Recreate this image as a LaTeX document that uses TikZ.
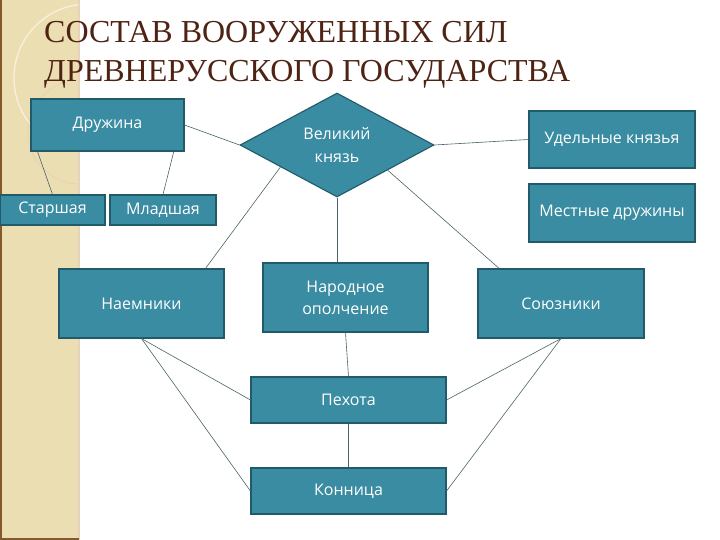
\documentclass[tikz,border=0pt]{standalone}
\usepackage{fontspec}
\setmainfont{Liberation Serif}
\setsansfont{Open Sans}
\usetikzlibrary{calc,positioning,shapes.geometric}

\definecolor{boxfill}{HTML}{3A8CA2}
\definecolor{boxline}{HTML}{215A69}
\definecolor{linkgray}{HTML}{4A6469}
\definecolor{stripbeige}{HTML}{ECDEB3}
\definecolor{titlebrown}{HTML}{4F2313}

\begin{document}
\begin{tikzpicture}[
            x=1pt, y=-1pt,
            font=\sffamily\fontsize{16}{22}\selectfont,
            % rettangoli e rombo dello schema
            unit/.style={rectangle, draw=boxline, line width=1.1pt, fill=boxfill, text=white, align=center, inner sep=0pt},
            chief/.style={diamond, draw=boxline, line width=1.1pt, fill=boxfill, text=white, align=center, inner sep=0pt, font=\sffamily\fontsize{16}{23}\selectfont},
            link/.style={draw=linkgray, line width=0.6pt},
            heading/.style={anchor=base west, text=titlebrown, font=\rmfamily\fontsize{32}{39}\selectfont, inner sep=0pt}
        ]

        \useasboundingbox (0,0) rectangle (720,540);
        \fill[white] (0,0) rectangle (720,540);

        % Fascia a sinistra
        \fill[stripbeige] (0,0) rectangle (79,540);
        \begin{scope}
            \clip (0,0) rectangle (79,540);
            \draw[white, opacity=0.6, line width=1.2pt] (88,78) circle (74);
            \draw[brown!40, opacity=0.5, line width=1pt] (80,132) circle (52);
        \end{scope}
        \draw[brown!35, line width=1.2pt] (79,0) -- (79,540);
        \draw[brown!70!black, line width=2pt] (1,0) -- (1,540);
        \draw[brown!70!black, line width=1.5pt] (0,539) -- (79,539);

        % Titolo
        \node (title_a) [heading] at (44,43) {СОСТАВ ВООРУЖЕННЫХ СИЛ};
        \node (title_b) [heading] at (44,82) {ДРЕВНЕРУССКОГО ГОСУДАРСТВА};

        % Nodi
        \node (druzhina) [unit, minimum width=153, minimum height=52] at (107.5,125) {Дружина};
        \node (starshaya) [unit, minimum width=105, minimum height=30] at (52.5,210) {Старшая};
        \node (mladshaya) [unit, minimum width=106, minimum height=30] at (163,210) {Младшая};

        \node (knyaz) [chief, minimum width=194, minimum height=104] at (337,145) {Великий\\князь};

        \node (udelnye) [unit, minimum width=166, minimum height=57] at (612,139.5) {Удельные князья};
        \node (mestnye) [unit, minimum width=166, minimum height=58] at (612,213) {Местные дружины};

        \node (naemniki) [unit, minimum width=165, minimum height=69] at (141.5,303.5) {Наемники};
        \node (narodnoe) [unit, minimum width=165, minimum height=69] at (345.5,297.5) {Народное\\ополчение};
        \node (soyuzniki) [unit, minimum width=166, minimum height=69] at (561,303.5) {Союзники};

        \node (pehota) [unit, minimum width=195, minimum height=46] at (348.5,400) {Пехота};
        \node (konnitsa) [unit, minimum width=195, minimum height=46] at (348.5,491) {Конница};

        % Collegamenti
        \draw [link] (druzhina.east) -- (knyaz.west);
        \draw [link] ($(druzhina.south west)!0.046!(druzhina.south east)$) -- (starshaya.north);
        \draw [link] ($(druzhina.south west)!0.93!(druzhina.south east)$) -- (mladshaya.north);

        \draw [link] ($(knyaz.west)!0.42!(knyaz.south)$) -- ($(naemniki.north west)!0.885!(naemniki.north east)$);
        \draw [link] (knyaz.south) -- (knyaz.south |- narodnoe.north);
        \draw [link] (knyaz.east) -- (udelnye.west);
        \draw [link] ($(knyaz.east)!0.48!(knyaz.south)$) -- ($(soyuzniki.north west)!0.13!(soyuzniki.north east)$);

        \draw [link] (narodnoe.south) -- (pehota.north);
        \draw [link] (pehota.south) -- (konnitsa.north);

        % Linee verso fanteria e cavalleria
        \draw [link] (naemniki.south) -- (pehota.west);
        \draw [link] (naemniki.south) -- (konnitsa.west);
        \draw [link] (soyuzniki.south) -- (pehota.east);
        \draw [link] (soyuzniki.south) -- (konnitsa.east);

    \end{tikzpicture}
\end{document}
